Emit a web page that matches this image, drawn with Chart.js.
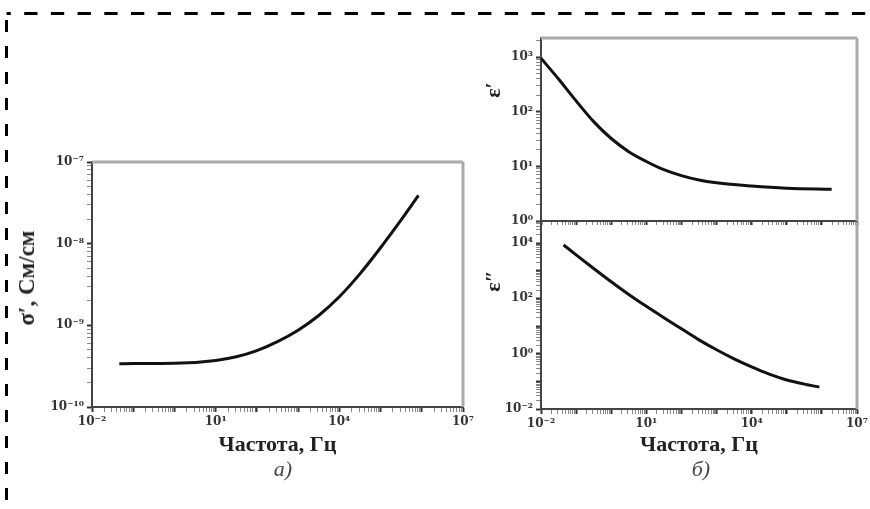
<!DOCTYPE html>
<html>
<head>
<meta charset="utf-8">
<script src="https://cdn.jsdelivr.net/npm/chart.js@4.4.1/dist/chart.umd.min.js"></script>
<style>
  body { margin: 0; width: 870px; height: 509px; background: #fff; position: relative; overflow: hidden; font-family: "Liberation Serif", serif; }
  canvas { position: absolute; }
  .lbl { position: absolute; font-weight: bold; color: #222; white-space: nowrap; transform: translate(-50%, -50%) rotate(-90deg); }
  .cap { position: absolute; font-style: italic; font-size: 22px; color: #444; transform: translate(-50%, -50%); }
</style>
</head>
<body>
<svg width="870" height="509" style="position:absolute;left:0;top:0">
  <line x1="6.5" y1="13.5" x2="866" y2="13.5" stroke="#000" stroke-width="3" stroke-dasharray="13.3 13.4" stroke-dashoffset="9"/>
  <line x1="6.5" y1="12" x2="6.5" y2="509" stroke="#000" stroke-width="3" stroke-dasharray="12 14" stroke-dashoffset="-8"/>
</svg>

<canvas id="sigmaChart" width="470" height="322" style="left:12px;top:150px"></canvas>
<canvas id="epsRealChart" width="410" height="200" style="left:460px;top:25px"></canvas>
<canvas id="epsImagChart" width="410" height="250" style="left:460px;top:222px"></canvas>

<div class="lbl" style="left:27px;top:278px;font-size:23px">σ′, См/см</div>
<div class="lbl" style="left:493px;top:90px;font-size:22px">ε′</div>
<div class="lbl" style="left:493px;top:281px;font-size:22px">ε″</div>
<div class="cap" style="left:283px;top:469px">а)</div>
<div class="cap" style="left:701px;top:469px">б)</div>

<script>
// Conductivity vs frequency (left panel)
const sigmaFreq = [0.046, 0.1, 1, 10, 31.6, 100, 316, 1000, 3160, 1e4, 3.16e4, 1e5, 3.16e5, 8.3e5];
const sigmaValues = [3.39e-10, 3.4e-10, 3.43e-10, 3.72e-10, 4.12e-10, 4.9e-10, 6.31e-10, 8.71e-10, 1.32e-9, 2.24e-9, 4.27e-9, 8.91e-9, 1.95e-8, 3.89e-8];

// Real part of permittivity (top right panel)
const epsRealFreq = [0.01, 0.0316, 0.1, 0.316, 1, 3.16, 10, 31.6, 100, 316, 1000, 1e4, 1e5, 1.9e6];
const epsRealValues = [955, 398, 158, 66, 32.4, 18.6, 12.3, 8.7, 6.76, 5.62, 5.01, 4.37, 3.98, 3.8];

// Imaginary part of permittivity (bottom right panel)
const epsImagFreq = [0.044, 0.1, 0.316, 1, 3.16, 10, 31.6, 100, 316, 1000, 3160, 1e4, 3.16e4, 1e5, 3.16e5, 8.5e5];
const epsImagValues = [8510, 3715, 1202, 398, 138, 51.3, 19.95, 7.94, 3.16, 1.38, 0.646, 0.331, 0.182, 0.112, 0.0794, 0.0617];

// Tick labels
const freqTickValues = [0.01, 10, 1e4, 1e7];
const freqTickLabels = ['10⁻²', '10¹', '10⁴', '10⁷'];
const sigmaTickValues = [1e-10, 1e-9, 1e-8, 1e-7];
const sigmaTickLabels = ['10⁻¹⁰', '10⁻⁹', '10⁻⁸', '10⁻⁷'];
const epsRealTickValues = [1, 10, 100, 1000];
const epsRealTickLabels = ['10⁰', '10¹', '10²', '10³'];
const epsImagTickValues = [0.01, 1, 100, 1e4];
const epsImagTickLabels = ['10⁻²', '10⁰', '10²', '10⁴'];

const xTitle = 'Частота, Гц';
const SERIF = '"Liberation Serif", "Times New Roman", serif';
const TICK_FONT = '"DejaVu Serif", serif';

// log ticks: 1..9 x 10^e inside [min, max]
function logTicks(min, max) {
  const ticks = [];
  for (let e = Math.floor(Math.log10(min)); e <= Math.ceil(Math.log10(max)); e++) {
    for (let m = 1; m <= 9; m++) {
      const v = Number((m * Math.pow(10, e)).toPrecision(3));
      if (v >= min * 0.999 && v <= max * 1.001) ticks.push({ value: v, major: m === 1 });
    }
  }
  return ticks;
}

function labelFor(values, labels) {
  return (v) => {
    const i = values.findIndex(x => Math.abs(Math.log10(x) - Math.log10(v)) < 1e-6);
    return i >= 0 ? labels[i] : '';
  };
}

const framePlugin = {
  id: 'frame',
  afterDraw(chart, args, opts) {
    const { ctx, chartArea: a } = chart;
    ctx.save();
    ctx.strokeStyle = '#aaa';
    ctx.lineWidth = 3;
    ctx.beginPath();
    if (opts.top !== false) { ctx.moveTo(a.left, a.top); ctx.lineTo(a.right, a.top); }
    ctx.moveTo(a.right, a.top);
    ctx.lineTo(a.right, a.bottom);
    ctx.stroke();
    ctx.restore();
  }
};

function axis(min, max, tickValues, tickLabels, showLabels, size, title) {
  return {
    type: 'logarithmic',
    min: min,
    max: max,
    afterBuildTicks: s => { s.ticks = logTicks(min, max); },
    afterFit: s => {
      if (s.isHorizontal()) s.height = size; else s.width = size;
      s.paddingLeft = s.paddingRight = s.paddingTop = s.paddingBottom = 0;
    },
    border: { display: true, color: '#444', width: 2 },
    grid: {
      drawOnChartArea: false,
      tickLength: 5,
      tickColor: c => (c.tick && c.tick.major ? '#333' : '#888'),
      tickWidth: c => (c.tick && c.tick.major ? 2 : 1)
    },
    ticks: {
      display: showLabels,
      autoSkip: false,
      maxRotation: 0,
      padding: 3,
      color: '#333',
      font: { family: TICK_FONT, size: 12, weight: 'bold' },
      callback: labelFor(tickValues, tickLabels)
    },
    title: title ? {
      display: true,
      text: title,
      color: '#222',
      font: { family: SERIF, size: 22, weight: 'bold' },
      padding: { top: 0, bottom: 13 }
    } : { display: false }
  };
}

function makeChart(id, freq, values, xScale, yScale, padding, frameTop) {
  return new Chart(document.getElementById(id).getContext('2d'), {
    type: 'line',
    data: {
      datasets: [{
        data: freq.map((f, i) => ({ x: f, y: values[i] })),
        borderColor: '#111',
        borderWidth: 3,
        pointRadius: 0,
        cubicInterpolationMode: 'monotone',
        fill: false
      }]
    },
    options: {
      responsive: false,
      animation: false,
      layout: { padding: padding },
      plugins: { legend: { display: false }, tooltip: { enabled: false }, frame: { top: frameTop } },
      scales: { x: xScale, y: yScale }
    },
    plugins: [framePlugin]
  });
}

const sigmaChart = makeChart('sigmaChart', sigmaFreq, sigmaValues,
  axis(0.01, 1e7, freqTickValues, freqTickLabels, true, 65, xTitle),
  axis(1e-10, 1e-7, sigmaTickValues, sigmaTickLabels, true, 80, null),
  { left: 0, right: 19, top: 12, bottom: 0 }, true);

const epsRealChart = makeChart('epsRealChart', epsRealFreq, epsRealValues,
  axis(0.01, 1e7, freqTickValues, freqTickLabels, false, 4, null),
  axis(1, 2240, epsRealTickValues, epsRealTickLabels, true, 81, null),
  { left: 0, right: 13, top: 13, bottom: 0 }, true);

const epsImagChart = makeChart('epsImagChart', epsImagFreq, epsImagValues,
  axis(0.01, 1e7, freqTickValues, freqTickLabels, true, 63, xTitle),
  axis(0.01, 57500, epsImagTickValues, epsImagTickLabels, true, 81, null),
  { left: 0, right: 13, top: 0, bottom: 0 }, false);
</script>
</body>
</html>
